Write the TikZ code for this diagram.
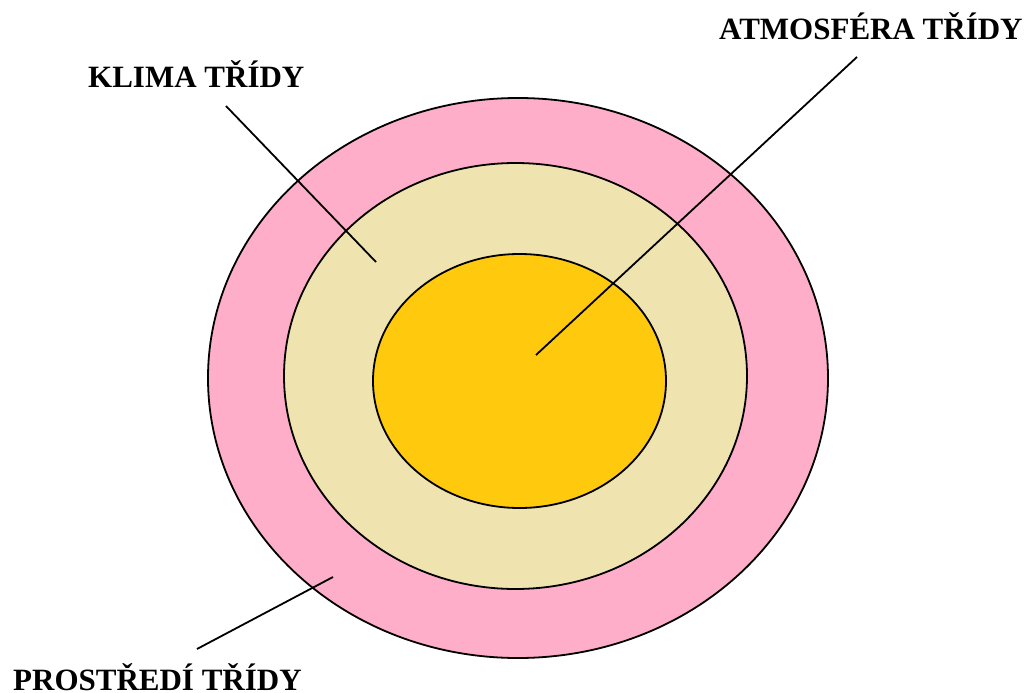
\documentclass[tikz,border=0pt]{standalone}
\usepackage{fontspec}
\setmainfont{Liberation Serif}
\usetikzlibrary{shapes.geometric}
\definecolor{rosepink}{RGB}{255,174,201}
\definecolor{lighttan}{RGB}{239,228,176}
\definecolor{goldy}{RGB}{255,201,14}
\tikzset{
  ring/.style={ellipse, draw=black, line width=1.8pt, inner sep=0pt},
  lbl/.style={anchor=base west, inner sep=0pt, font=\fontsize{31}{31}\selectfont\bfseries},
  leader/.style={draw=black, line width=1.8pt}
}
\begin{document}
\begin{tikzpicture}[x=1pt,y=-1pt]
\useasboundingbox (0,0) rectangle (1028,693);
\node[ring, fill=rosepink, minimum width=620pt, minimum height=560pt] (outer) at (518,378) {};
\node[ring, fill=lighttan, minimum width=463pt, minimum height=426pt] (middle) at (515.5,376) {};
\node[ring, fill=goldy, minimum width=293pt, minimum height=254pt] (inner) at (519.5,381) {};
\node[lbl] (atm) at (719,40) {ATMOSFÉRA TŘÍDY};
\node[lbl] (klima) at (88,88) {KLIMA TŘÍDY};
\node[lbl] (prost) at (13,690) {PROSTŘEDÍ TŘÍDY};
\coordinate (atmA) at (857,57);
\coordinate (atmB) at (536,355);
\coordinate (kliA) at (226,106);
\coordinate (kliB) at (376,262);
\coordinate (proA) at (333,577);
\coordinate (proB) at (197,649);
\draw[leader] (atmA) -- (atmB);
\draw[leader] (kliA) -- (kliB);
\draw[leader] (proA) -- (proB);
\end{tikzpicture}
\end{document}
